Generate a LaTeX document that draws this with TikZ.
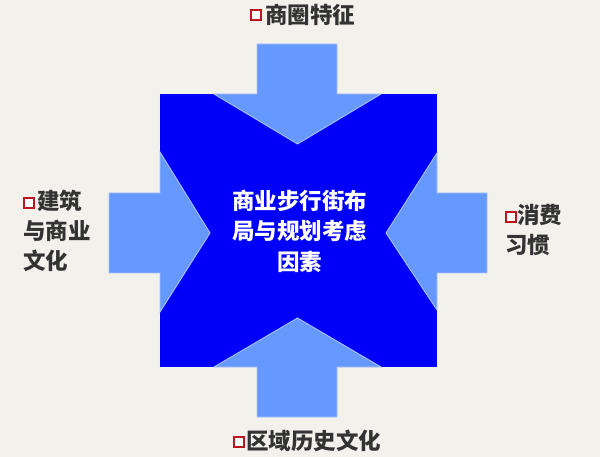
\documentclass[tikz,border=0pt]{standalone}
\usepackage{fontspec}
\newfontfamily\cjk{Noto Sans CJK SC}
\definecolor{bg}{HTML}{F3F1EC}
\definecolor{deepblue}{HTML}{0000FA}
\definecolor{lightblue}{HTML}{6699FF}
\definecolor{edgeblue}{HTML}{A9C2FF}
\definecolor{labelgray}{HTML}{333333}
\definecolor{bulletred}{HTML}{C0141E}
\tikzset{
  arrowshape/.style={fill=lightblue, draw=edgeblue, line width=0.9pt, line join=miter},
  centerbox/.style={fill=deepblue, draw=none},
  labeltext/.style={text=labelgray, font=\cjk\bfseries\fontsize{22.5}{30}\selectfont, inner sep=0pt, align=left},
  bulletbox/.style={draw=bulletred, fill=white, line width=2pt, minimum size=10pt, inner sep=0pt},
  centertext/.style={text=white, font=\cjk\bfseries\fontsize{22.5}{30.5}\selectfont, align=center, inner sep=0pt}
}
\begin{document}
\begin{tikzpicture}[x=1pt,y=-1pt]
\fill[bg] (0,0) rectangle (600,457);
\useasboundingbox (0,0) rectangle (600,457);
% central square
\node[centerbox, minimum width=277pt, minimum height=273pt, inner sep=0pt] (core) at (298.5,230.5) {};
% top arrow
\filldraw[arrowshape] (257,44) -- (337,44) -- (337,94) -- (381,94) -- (297.5,144) -- (214,94) -- (257,94) -- cycle;
% bottom arrow
\filldraw[arrowshape] (257,417) -- (337,417) -- (337,367) -- (381,367) -- (297.5,318) -- (214,367) -- (257,367) -- cycle;
% left arrow
\filldraw[arrowshape] (109,193) -- (160,193) -- (160,152) -- (210,233) -- (160,312) -- (160,273) -- (109,273) -- cycle;
% right arrow
\filldraw[arrowshape] (487,193) -- (437,193) -- (437,153) -- (386,233) -- (437,310) -- (437,273) -- (487,273) -- cycle;
% centre text
\node[centertext] (title) at (299.5,231) {商业步行街布\\局与规划考虑\\因素};
% labels
\node[bulletbox] (b1) at (255.5,15.5) {};
\node[labeltext, anchor=west] (t1) at (265,15) {商圈特征};
\node[bulletbox] (b2) at (29,203) {};
\node[labeltext, anchor=north west] (t2) at (23,190) {\hspace*{14pt}建筑\\与商业\\文化};
\node[bulletbox] (b3) at (510.5,217.5) {};
\node[labeltext, anchor=north west] (t3) at (505,204.5) {\hspace*{12pt}消费\\习惯};
\node[bulletbox] (b4) at (239,442) {};
\node[labeltext, anchor=west] (t4) at (246,441) {区域历史文化};
\end{tikzpicture}
\end{document}
